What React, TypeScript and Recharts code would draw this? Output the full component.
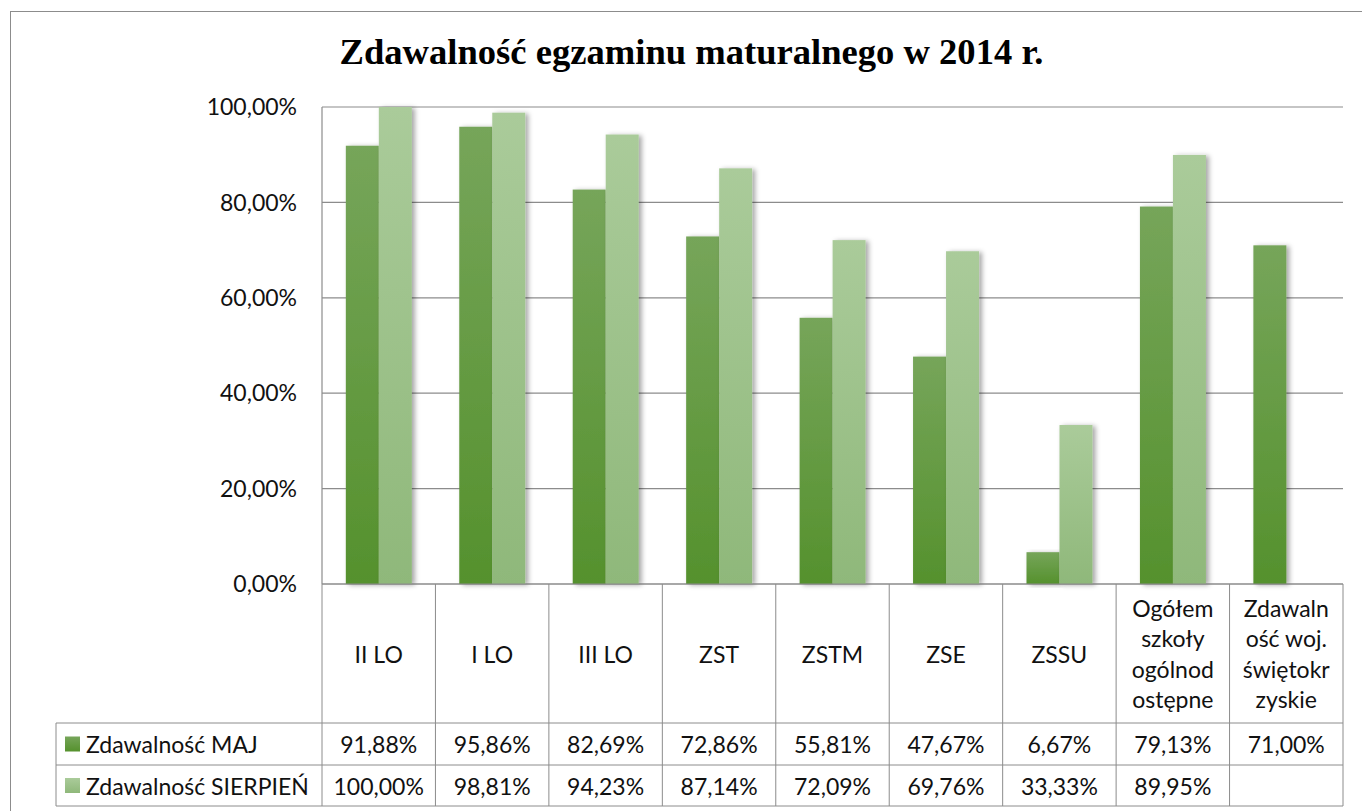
import { BarChart, Bar, XAxis, YAxis, CartesianGrid } from "recharts";

const CATEGORIES = [
  "II LO",
  "I LO",
  "III LO",
  "ZST",
  "ZSTM",
  "ZSE",
  "ZSSU",
  "Ogółem szkoły ogólnodostępne",
  "Zdawalność woj. świętokrzyskie",
];
// etykiety zawinięte tak jak w tabeli danych
const CATEGORY_LINES = [
  ["II LO"],
  ["I LO"],
  ["III LO"],
  ["ZST"],
  ["ZSTM"],
  ["ZSE"],
  ["ZSSU"],
  ["Ogółem", "szkoły", "ogólnod", "ostępne"],
  ["Zdawaln", "ość woj.", "świętokr", "zyskie"],
];
const MAJ = [91.88, 95.86, 82.69, 72.86, 55.81, 47.67, 6.67, 79.13, 71.0];
const SIERPIEN = [100.0, 98.81, 94.23, 87.14, 72.09, 69.76, 33.33, 89.95, null];
const Y_TICKS = [0, 20, 40, 60, 80, 100];
const SERIES_NAMES = ["Zdawalność MAJ", "Zdawalność SIERPIEŃ"];

const W = 1362;
const H = 811;
const PLOT_LEFT = 322;
const PLOT_RIGHT = 1343;
const PLOT_BOTTOM = 584;
const COL_W = (PLOT_RIGHT - PLOT_LEFT) / CATEGORIES.length;
const TABLE_LEFT = 56;
const ROW1 = 723;
const ROW2 = 765;
const ROW3 = 806;
const LINE = "#8c8c8c";
const FONT = "Lato, 'Open Sans', sans-serif";

const data = CATEGORIES.map((name, i) => ({ name, maj: MAJ[i], sierpien: SIERPIEN[i] }));

const fmt = (v: number | null) => (v == null ? "" : v.toFixed(2).replace(".", ",") + "%");

function ShadowBar(fillId: string) {
  return (p: any) => {
    if (!p.height || p.height <= 0) return null;
    return (
      <rect x={p.x} y={p.y} width={p.width} height={p.height} fill={`url(#${fillId})`} filter="url(#barShadow)" />
    );
  };
}

// tick osi X rysuje kolumnę tabeli danych
function TableTick(props: any) {
  const { x, y, index } = props;
  const left = x - COL_W / 2;
  const right = x + COL_W / 2;
  const lines = CATEGORY_LINES[index] ?? [];
  const lh = 30.5;
  const midHeader = (y + ROW1) / 2;
  const first = midHeader - ((lines.length - 1) * lh) / 2;
  return (
    <g fontFamily={FONT} fontSize={23} fill="#111">
      {index === 0 && (
        <g>
          <line x1={left} x2={left} y1={y} y2={ROW3} stroke={LINE} />
          <line x1={TABLE_LEFT} x2={TABLE_LEFT} y1={ROW1} y2={ROW3} stroke={LINE} />
          <line x1={TABLE_LEFT} x2={PLOT_RIGHT} y1={ROW1} y2={ROW1} stroke={LINE} />
          <line x1={TABLE_LEFT} x2={PLOT_RIGHT} y1={ROW2} y2={ROW2} stroke={LINE} />
          <line x1={TABLE_LEFT} x2={PLOT_RIGHT} y1={ROW3} y2={ROW3} stroke={LINE} />
          <rect x={65} y={(ROW1 + ROW2) / 2 - 7.5} width={15} height={15} fill="url(#gMaj)" />
          <rect x={65} y={(ROW2 + ROW3) / 2 - 7.5} width={15} height={15} fill="url(#gSie)" />
          <text x={86} y={(ROW1 + ROW2) / 2} dominantBaseline="central">
            {SERIES_NAMES[0]}
          </text>
          <text x={86} y={(ROW2 + ROW3) / 2} dominantBaseline="central">
            {SERIES_NAMES[1]}
          </text>
        </g>
      )}
      <line x1={right} x2={right} y1={y} y2={ROW3} stroke={LINE} />
      {lines.map((t, k) => (
        <text key={k} x={x} y={first + k * lh} textAnchor="middle" dominantBaseline="central">
          {t}
        </text>
      ))}
      <text x={x} y={(ROW1 + ROW2) / 2} textAnchor="middle" dominantBaseline="central">
        {fmt(MAJ[index])}
      </text>
      <text x={x} y={(ROW2 + ROW3) / 2} textAnchor="middle" dominantBaseline="central">
        {fmt(SIERPIEN[index])}
      </text>
    </g>
  );
}

export default function App() {
  return (
    <div style={{ position: "absolute", left: 0, top: 0, width: W, height: H, background: "#fff", overflow: "hidden" }}>
      <div
        style={{
          position: "absolute",
          left: 10,
          top: 11,
          width: W,
          height: H,
          borderLeft: `1.5px solid ${LINE}`,
          borderTop: `1.5px solid ${LINE}`,
        }}
      />
      <div
        style={{
          position: "absolute",
          left: 0,
          width: 1383,
          top: 32,
          textAlign: "center",
          fontFamily: "'Liberation Serif', serif",
          fontWeight: "bold",
          fontSize: 36.6,
          lineHeight: "40px",
          color: "#000",
        }}
      >
        Zdawalność egzaminu maturalnego w 2014 r.
      </div>
      <div style={{ position: "absolute", left: 0, top: 0 }}>
        <BarChart
          width={W}
          height={H}
          data={data}
          margin={{ top: 107, right: W - PLOT_RIGHT, bottom: 5, left: 0 }}
          barCategoryGap="21%"
          barGap={0}
        >
          <defs>
            <linearGradient id="gMaj" x1="0" y1="0" x2="0" y2="1">
              <stop offset="0%" stopColor="#76a55a" />
              <stop offset="100%" stopColor="#55912d" />
            </linearGradient>
            <linearGradient id="gSie" x1="0" y1="0" x2="0" y2="1">
              <stop offset="0%" stopColor="#aacb9a" />
              <stop offset="100%" stopColor="#8fb87a" />
            </linearGradient>
            <filter id="barShadow" x="-30%" y="-10%" width="160%" height="120%">
              <feDropShadow dx="3" dy="1" stdDeviation="2.5" floodColor="#000" floodOpacity="0.35" />
            </filter>
          </defs>
          <CartesianGrid vertical={false} stroke={LINE} strokeWidth={1.2} />
          <XAxis
            dataKey="name"
            interval={0}
            height={H - 5 - PLOT_BOTTOM}
            tickLine={false}
            tickSize={0}
            tickMargin={0}
            axisLine={{ stroke: LINE, strokeWidth: 1.2 }}
            tick={<TableTick />}
          />
          <YAxis
            width={PLOT_LEFT}
            domain={[0, 100]}
            ticks={Y_TICKS}
            tickFormatter={(v: number) => fmt(v)}
            tickLine={false}
            tickSize={0}
            tickMargin={25}
            axisLine={{ stroke: LINE, strokeWidth: 1.2 }}
            tick={{ fontFamily: FONT, fontSize: 23, fill: "#111" }}
          />
          <Bar dataKey="maj" name={SERIES_NAMES[0]} isAnimationActive={false} shape={ShadowBar("gMaj")} />
          <Bar dataKey="sierpien" name={SERIES_NAMES[1]} isAnimationActive={false} shape={ShadowBar("gSie")} />
        </BarChart>
      </div>
    </div>
  );
}
